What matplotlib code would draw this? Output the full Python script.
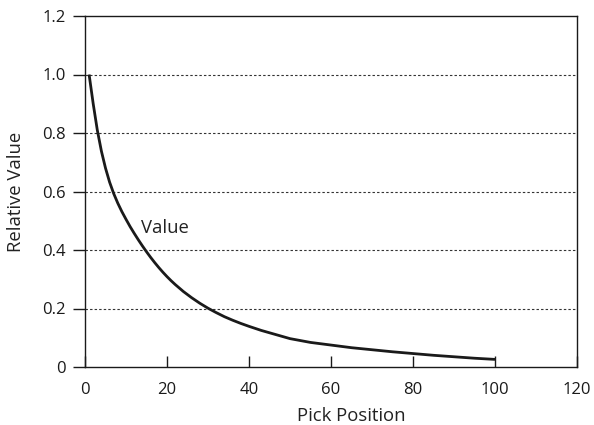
import matplotlib
matplotlib.use("Agg")
import matplotlib.pyplot as plt

pick_position = [1, 2, 3, 4, 5, 6, 7, 8, 9, 10, 11, 12, 13, 14, 15, 16, 17, 18, 19, 20, 21,
                 22, 24, 26, 28, 30, 32, 34, 36, 38, 40, 43, 46, 50, 55, 60, 65, 70, 75, 80, 85, 90, 95, 100]
relative_value = [1.0, 0.900, 0.810, 0.738, 0.680, 0.632, 0.593, 0.560, 0.531, 0.505,
                  0.480, 0.457, 0.435, 0.414, 0.394, 0.375, 0.357, 0.340, 0.324, 0.309, 0.295,
                  0.282, 0.258, 0.237, 0.218, 0.201, 0.186, 0.172, 0.160, 0.149, 0.139, 0.125, 0.113, 0.097,
                  0.084, 0.075, 0.066, 0.059, 0.052, 0.046, 0.040, 0.035, 0.030, 0.026]
series_label = "Value"
x_ticks = [0, 20, 40, 60, 80, 100, 120]
y_ticks = [0, 0.2, 0.4, 0.6, 0.8, 1.0, 1.2]
y_tick_labels = ["0", "0.2", "0.4", "0.6", "0.8", "1.0", "1.2"]

plt.rcParams['font.family'] = ['Open Sans', 'DejaVu Sans']

fig = plt.figure(figsize=(5.94, 4.25), dpi=100)
ax = fig.add_axes([85/594, 1-367/425, (577-85)/594, (367-16)/425])

for yv in y_ticks[1:-1]:
    ax.axhline(yv, color='#333333', linestyle=(0, (2.2, 1.9)), linewidth=0.8, zorder=1)

ax.plot(pick_position, relative_value, color='#1a1a1a', linewidth=2.0, zorder=3,
        solid_capstyle='butt', solid_joinstyle='round')
ax.text(13.6, 0.457, series_label, fontsize=13.3, va='baseline', ha='left', color='#222222')

ax.set_xlim(0, 120)
ax.set_ylim(0, 1.2)
ax.set_xticks(x_ticks)
ax.set_yticks(y_ticks)
ax.set_yticklabels(y_tick_labels)
ax.tick_params(axis='x', direction='in', length=8, width=1, labelsize=12, pad=10.5,
               colors='#1a1a1a')
ax.tick_params(axis='y', direction='out', length=9, width=1, labelsize=12, pad=5,
               colors='#1a1a1a')
for s in ax.spines.values():
    s.set_linewidth(1.0)
    s.set_color('#1a1a1a')
ax.set_xlabel("Pick Position", fontsize=13.3, color='#222222')
ax.set_ylabel("Relative Value", fontsize=13.3, color='#222222')
ax.xaxis.set_label_coords((351-85)/492, -(421-367)/351)
ax.xaxis.label.set_va('baseline')
ax.yaxis.set_label_coords(-(85-16)/492, 0.5)
ax.yaxis.label.set_va('center')

fig.savefig("out.png", dpi=100)
